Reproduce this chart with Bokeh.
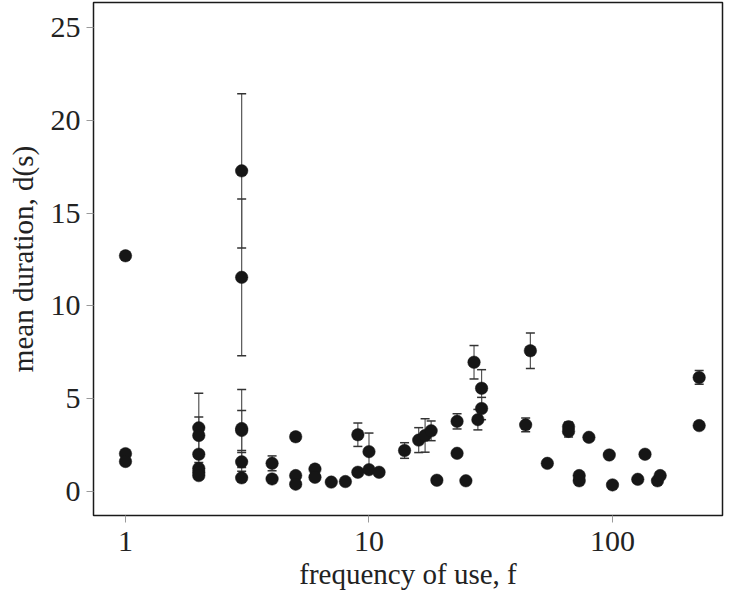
from bokeh.plotting import figure
from bokeh.models import (ColumnDataSource, Whisker, TeeHead,
                          FixedTicker, CustomJSTickFormatter, Range1d)
from bokeh.embed import file_html
from bokeh.resources import INLINE

# frequency of use f, mean duration d (s), error (half-length of bar)
freq = [1, 1, 1,
        2, 2, 2, 2, 2, 2,
        3, 3, 3, 3, 3, 3,
        4, 4, 5, 5, 5, 6, 6, 7, 8, 9, 9, 10, 10, 11,
        14, 16, 17, 18, 19, 23, 23, 25, 27, 28, 29, 29,
        44, 46, 54, 66, 66, 73, 73, 80, 97, 100, 127, 136, 153, 157,
        227, 227]
duration = [12.70, 2.05, 1.63,
            3.44, 3.03, 2.02, 1.26, 1.05, 0.87,
            17.27, 11.54, 3.40, 3.30, 1.61, 0.75,
            1.53, 0.69, 2.96, 0.87, 0.41, 1.22, 0.78, 0.52, 0.55, 3.07, 1.05, 2.16, 1.19, 1.05,
            2.22, 2.78, 3.03, 3.28, 0.62, 3.79, 2.07, 0.59, 6.97, 3.88, 5.57, 4.48,
            3.60, 7.59, 1.53, 3.50, 3.25, 0.87, 0.59, 2.93, 1.98, 0.37, 0.67, 2.02, 0.59, 0.87,
            6.15, 3.56]
error = [0, 0, 0,
         1.86, 1.00, 0, 0, 0, 0.18,
         4.15, 4.22, 2.10, 1.08, 0.50, 0,
         0.40, 0, 0.15, 0, 0, 0.22, 0, 0, 0, 0.63, 0, 1.00, 0, 0,
         0.42, 0.67, 0.90, 0.53, 0, 0.41, 0, 0, 0.90, 0.55, 1.00, 0.60,
         0.37, 0.95, 0, 0.25, 0.30, 0, 0, 0, 0, 0, 0, 0, 0, 0,
         0.37, 0.20]

x_ticks = [1, 10, 100]
y_ticks = [0, 5, 10, 15, 20, 25]

x_title = "frequency of use, f"
y_title = "mean duration, d(s)"

pts = ColumnDataSource(dict(f=freq, d=duration))
ef = [f for f, e in zip(freq, error) if e > 0]
ed = [d for d, e in zip(duration, error) if e > 0]
ee = [e for e in error if e > 0]
bars = ColumnDataSource(dict(f=ef,
                             lo=[d - e for d, e in zip(ed, ee)],
                             hi=[d + e for d, e in zip(ed, ee)]))

X0, X1 = 0.739, 283.0
Y0, Y1 = -1.277, 26.33

p = figure(width=725, height=592, title=None, x_axis_type="log",
           x_range=Range1d(X0, X1), y_range=Range1d(Y0, Y1),
           output_backend="svg", toolbar_location=None,
           min_border_left=93, min_border_right=3, min_border_top=2,
           min_border_bottom=71)

p.grid.visible = False
p.outline_line_color = "#1a1a1a"
p.outline_line_width = 1.5
p.background_fill_color = "white"
p.border_fill_color = "white"

FONT = "Liberation Serif"
for ax in (p.xaxis[0], p.yaxis[0]):
    ax.axis_line_color = None
    ax.major_tick_line_color = "#9a9a9a"
    ax.major_tick_line_width = 1
    ax.major_tick_out = 7
    ax.major_tick_in = 0
    ax.minor_tick_line_color = None
    ax.major_label_text_font = FONT
    ax.major_label_text_font_size = "30px"
    ax.major_label_text_color = "#222222"
    ax.axis_label_text_font = FONT
    ax.axis_label_text_font_size = "29px"
    ax.axis_label_text_font_style = "normal"
    ax.axis_label_text_color = "#222222"

p.xaxis.ticker = FixedTicker(ticks=x_ticks, minor_ticks=[])
p.xaxis.formatter = CustomJSTickFormatter(code="return tick.toString();")
p.xaxis.major_label_standoff = 9
p.xaxis.axis_label = x_title
p.xaxis.axis_label_standoff = 4
p.yaxis.ticker = FixedTicker(ticks=y_ticks, minor_ticks=[])
p.yaxis.major_label_standoff = 6
p.yaxis.axis_label = y_title
p.yaxis.axis_label_standoff = 9

wh = Whisker(source=bars, base="f", lower="lo", upper="hi", dimension="height",
             line_color="#555555", line_width=1.2,
             upper_head=TeeHead(size=9, line_color="#333333", line_width=1.5),
             lower_head=TeeHead(size=9, line_color="#333333", line_width=1.5),
             level="underlay")
p.add_layout(wh)

p.scatter("f", "d", source=pts, size=12.5, fill_color="#161616",
          line_color="#161616", line_width=0.5)

open("out.html", "w").write(file_html(p, INLINE))
